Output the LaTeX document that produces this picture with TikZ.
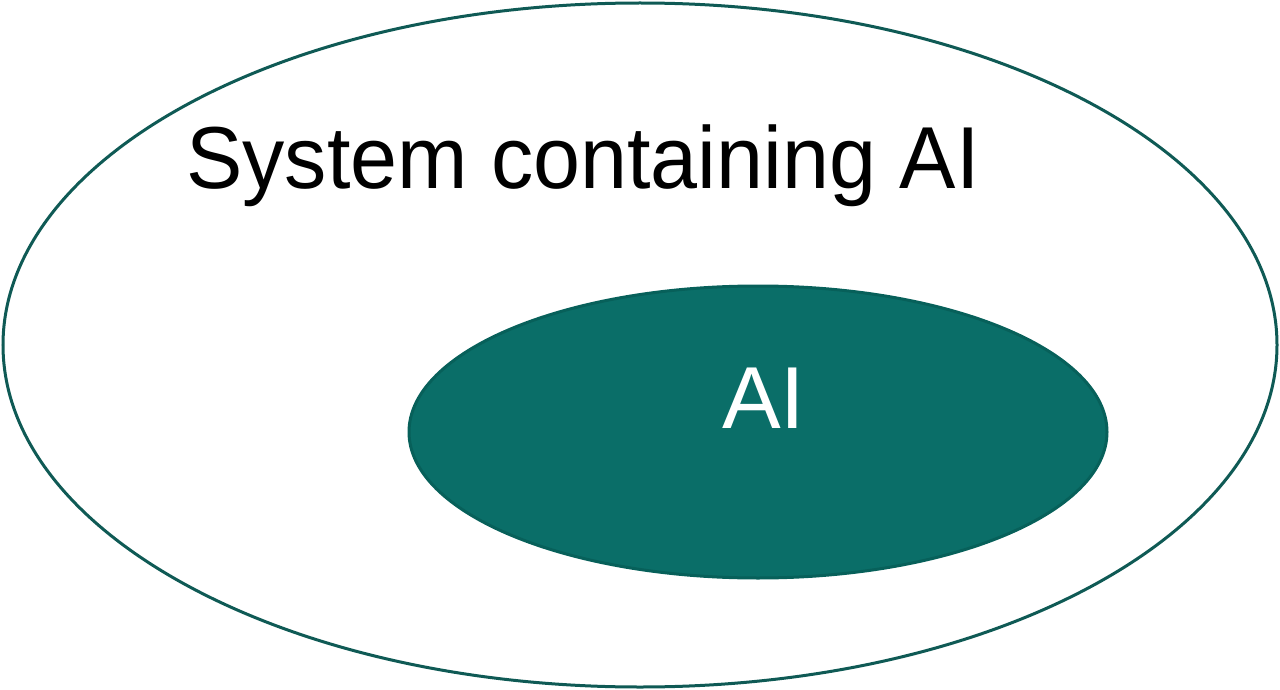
\documentclass[tikz,border=0pt]{standalone}
\usepackage{fontspec}
\setmainfont{Liberation Sans}
\definecolor{tealfill}{HTML}{0A6E68}
\definecolor{tealline}{HTML}{07605A}
\definecolor{outerline}{HTML}{0F5A55}
\begin{document}
\begin{tikzpicture}[x=1pt,y=-1pt,
  lbl/.style={inner sep=0pt,anchor=base west,font=\fontsize{88}{100}\selectfont}]
\useasboundingbox (0,0) rectangle (1280,690);
\draw[outerline,line width=3pt] (640,345) ellipse [x radius=637, y radius=342];
\draw[tealline,fill=tealfill,line width=3pt] (758,432) ellipse [x radius=349, y radius=146];
\node[lbl,xscale=0.96] (sys) at (186,188) {System containing AI};
\node[lbl,text=white] (ai) at (722,428) {AI};
\end{tikzpicture}
\end{document}
